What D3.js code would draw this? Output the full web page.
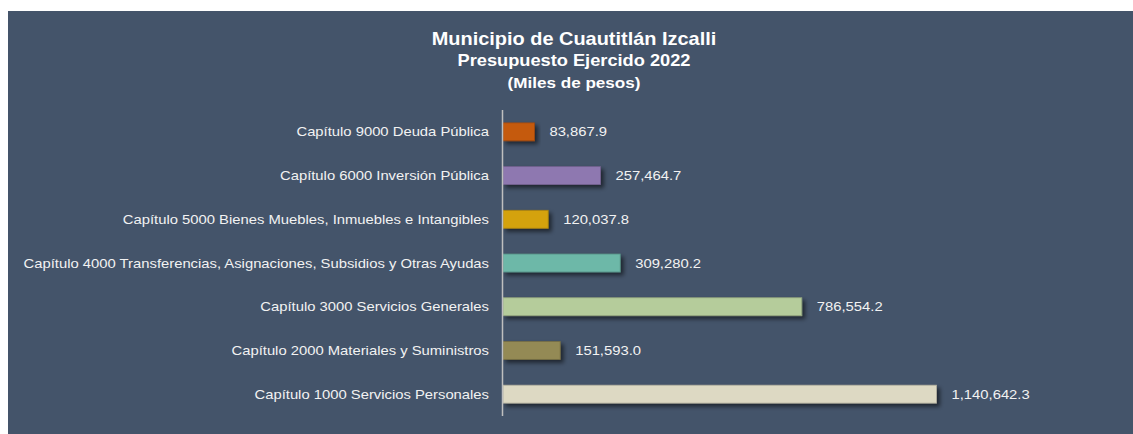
<!DOCTYPE html>
<meta charset="utf-8">
<html lang="es">
  <head>
    <script src="https://cdn.jsdelivr.net/npm/d3@7"></script>
    <style>
      body { margin: 0; background: #fff; }
      text { font-family: "Liberation Sans", Arial, sans-serif; }
    </style>
  </head>
  <body>
    <div id="chart"></div>
  <script>
    // categories bottom to top as drawn
    const capitulos = [
      'Capítulo 1000 Servicios Personales',
      'Capítulo 2000 Materiales y Suministros',
      'Capítulo 3000 Servicios Generales',
      'Capítulo 4000 Transferencias, Asignaciones, Subsidios y Otras Ayudas',
      'Capítulo 5000 Bienes Muebles, Inmuebles e Intangibles',
      'Capítulo 6000 Inversión Pública',
      'Capítulo 9000 Deuda Pública'
    ];
    const ejercido = [1140642.3, 151593.0, 786554.2, 309280.2, 120037.8, 257464.7, 83867.9];
    const colores = ['#DDD9C3', '#948A54', '#B5CC9B', '#6DB8A8', '#D4A20C', '#8E78B0', '#C55A11'];
    const titulos = ['Municipio de Cuautitlán Izcalli', 'Presupuesto Ejercido 2022', '(Miles de pesos)'];

    const W = 1133, H = 434;
    const SX = 1.14; // text in the original is a bit wide
    const svg = d3.select('#chart').append('svg')
      .attr('width', W).attr('height', H);

    const defs = svg.append('defs');
    defs.append('filter').attr('id', 'sombra')
      .attr('x', '-10%').attr('y', '-50%').attr('width', '130%').attr('height', '250%')
      .append('feDropShadow')
      .attr('dx', 3).attr('dy', 3).attr('stdDeviation', 2)
      .attr('flood-color', '#000').attr('flood-opacity', 0.55);

    // panel
    svg.append('rect').attr('x', 8).attr('y', 11)
      .attr('width', W - 8).attr('height', H - 11)
      .attr('fill', '#44546A');

    // title
    const tsize = [17.5, 16, 15];
    const ty = [45, 66, 88];
    svg.append('g').selectAll('text').data(titulos).enter()
      .append('text')
      .attr('transform', (d, i) => `translate(574,${ty[i]}) scale(${SX},1)`)
      .attr('text-anchor', 'middle')
      .attr('font-weight', 'bold')
      .attr('font-size', (d, i) => tsize[i] + 'px')
      .attr('fill', '#fff')
      .text(d => d);

    const x0 = 502.5;
    const x = d3.scaleLinear().domain([0, 1140642.3]).range([x0, 936.5]);
    const y = d3.scaleBand().domain(d3.range(capitulos.length).reverse())
      .range([110, 416]).paddingInner(0.59).paddingOuter(0.295);

    const g = svg.append('g');

    g.selectAll('rect.bar').data(ejercido).enter()
      .append('rect').attr('class', 'bar')
      .attr('x', x0 + 0.5)
      .attr('y', (d, i) => y(i))
      .attr('width', d => x(d) - x0 - 0.5)
      .attr('height', y.bandwidth())
      .attr('fill', (d, i) => colores[i])
      .attr('stroke', (d, i) => d3.color(colores[i]).darker(0.6))
      .attr('stroke-width', 0.8)
      .attr('filter', 'url(#sombra)');

    g.selectAll('text.cat').data(capitulos).enter()
      .append('text').attr('class', 'cat')
      .attr('transform', (d, i) => `translate(489,${y(i) + y.bandwidth() / 2}) scale(${SX},1)`)
      .attr('dy', '0.35em')
      .attr('text-anchor', 'end')
      .attr('font-size', '13px')
      .attr('fill', '#F2F2F2')
      .text(d => d);

    const fmt = d3.format(',.1f');
    g.selectAll('text.val').data(ejercido).enter()
      .append('text').attr('class', 'val')
      .attr('transform', (d, i) => `translate(${x(d) + 15},${y(i) + y.bandwidth() / 2}) scale(${SX},1)`)
      .attr('dy', '0.35em')
      .attr('font-size', '13px')
      .attr('fill', '#F2F2F2')
      .text(d => fmt(d));

    // category axis line
    svg.append('line')
      .attr('x1', x0).attr('x2', x0)
      .attr('y1', 110).attr('y2', 416)
      .attr('stroke', '#BFBFBF').attr('stroke-width', 1.5);
  </script>
  </body>
</html>
